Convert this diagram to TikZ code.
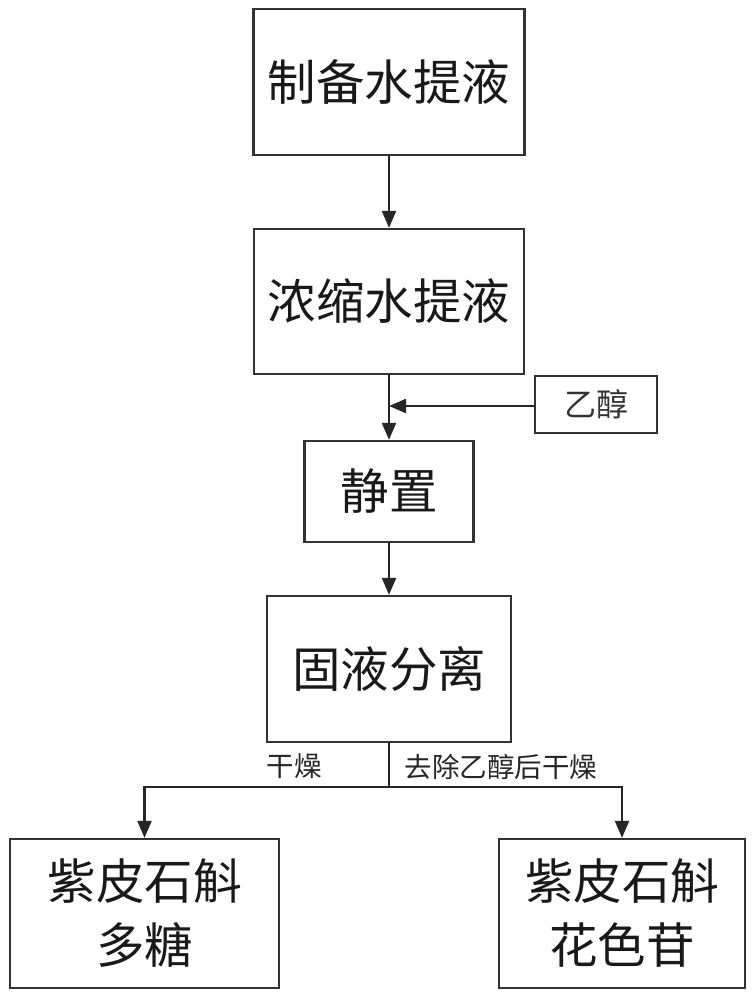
\documentclass[tikz,border=0pt]{standalone}
\usepackage{fontspec}
\newfontfamily\cjk{Noto Sans CJK SC}
\usetikzlibrary{arrows.meta}
\begin{document}
\begin{tikzpicture}[x=1pt,y=-1pt,
  line/.style={draw=black!85, line width=2.3pt},
  arr/.style={line, -{Triangle[length=17pt,width=14pt]}},
  box/.style={draw=black!80, line width=2.3pt, inner sep=0pt, align=center,
     font=\cjk\fontsize{48.5}{64}\selectfont, text=black!90},
  small/.style={font=\cjk\fontsize{32}{36}\selectfont, text=black!80},
  lab/.style={font=\cjk\fontsize{27.5}{30}\selectfont, text=black!85, inner sep=0pt}]
\useasboundingbox (0,0) rectangle (755,1000);
\node[box, minimum width=271pt, minimum height=146pt] (b1) at (389,82) {制备水提液};
\node[box, minimum width=270pt, minimum height=145pt] (b2) at (389,301.5) {浓缩水提液};
\node[box, minimum width=122pt, minimum height=57pt, small] (eth) at (596,404.5) {乙醇};
\node[box, minimum width=169pt, minimum height=101pt] (b3) at (389,491.5) {静置};
\node[box, minimum width=244pt, minimum height=146pt] (b4) at (389,669) {固液分离};
\node[box, minimum width=269pt, minimum height=149pt] (b5) at (144.5,913.5) {紫皮石斛\\多糖};
\node[box, minimum width=246pt, minimum height=149pt] (b6) at (622,913.5) {紫皮石斛\\花色苷};
\coordinate (join) at (389,406);
\coordinate (split) at (389,787);
\node[lab] (l1) at (294,766) {干燥};
\node[lab] (l2) at (501,767) {去除乙醇后干燥};
\draw[arr] (b1.south) -- (b2.north);
\draw[arr] (b2.south) -- (b3.north);
\draw[arr] (eth.west |- join) -- (join);
\draw[arr] (b3.south) -- (b4.north);
\draw[line] (b4.south) -- (split);
\draw[arr] (split) -| (b5.north);
\draw[arr] (split) -| (b6.north);
\end{tikzpicture}
\end{document}
